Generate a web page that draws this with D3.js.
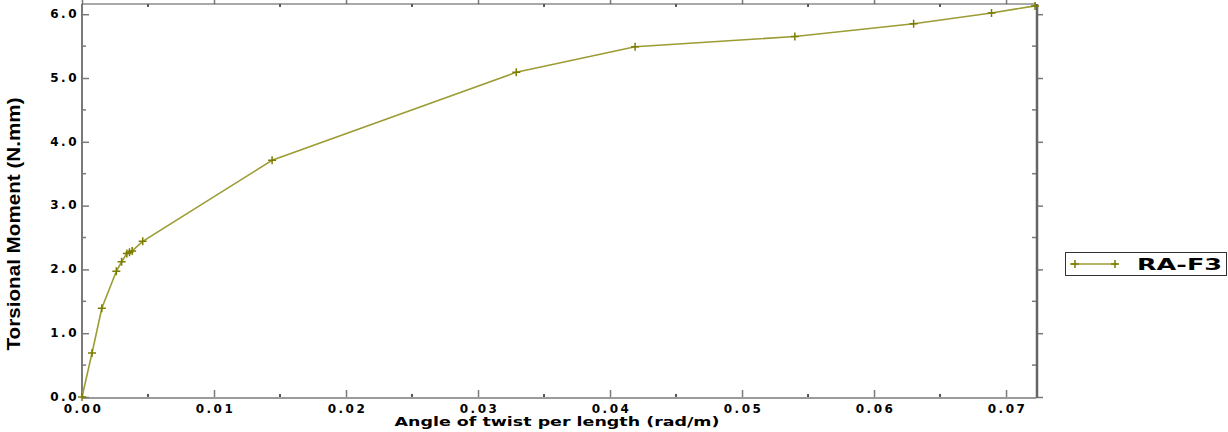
<!DOCTYPE html>
<html>
<head>
<meta charset="utf-8">
<script src="https://cdn.jsdelivr.net/npm/d3@7"></script>
<style>
  body { margin: 0; background: #fff; }
  svg { display: block; }
</style>
</head>
<body>
<div id="chart"></div>
<script>
// angle of twist per length (rad/m) and torsional moment (N.mm)
const twist  = [0, 0.00076, 0.0015, 0.0026, 0.0030, 0.0034, 0.0036, 0.0038, 0.0046, 0.0144, 0.0329, 0.0419, 0.0540, 0.0630, 0.0689, 0.0722];
const moment = [0, 0.69, 1.39, 1.97, 2.12, 2.25, 2.27, 2.29, 2.44, 3.71, 5.09, 5.49, 5.65, 5.85, 6.02, 6.13];
const xTicks = [0, 0.01, 0.02, 0.03, 0.04, 0.05, 0.06, 0.07];
const yTicks = [0, 1, 2, 3, 4, 5, 6];
const seriesName = "RA-F3";

const width = 1228, height = 432;
const pLeft = 82, pRight = 1036, pTop = 4, pBottom = 397;

const svg = d3.select("#chart").append("svg")
  .attr("width", width)
  .attr("height", height);

const x = d3.scaleLinear().domain([0, 0.07227]).range([pLeft, pRight]);
const y = d3.scaleLinear().domain([0, 6.16]).range([pBottom, pTop]);

const axisColor = "#7a7a7a";
const tickFont = "'DejaVu Sans', Verdana, sans-serif";

// minor ticks
const xMinor = d3.range(0.005, 0.0723, 0.01);
const yMinor = d3.range(0.5, 6.16, 1);

function drawX(g, yPos, dir, showLabels) {
  const ax = dir > 0 ? d3.axisBottom(x) : d3.axisTop(x);
  g.attr("transform", `translate(0,${yPos})`)
    .call(ax.tickValues(xTicks).tickSize(-7 * dir).tickFormat(showLabels ? d3.format(".2f") : ""));
  g.select(".domain").remove();
  g.selectAll(".tick line").attr("stroke", axisColor).attr("stroke-width", 1.5);
  g.selectAll(".tick text")
    .attr("fill", "#000")
    .attr("font-family", tickFont)
    .attr("font-weight", "bold")
    .attr("font-size", 12)
    .attr("letter-spacing", 2.5)
    .attr("x", 1)
    .attr("y", 7)
    .attr("dy", "0.71em");
  g.selectAll(".minor").data(xMinor).enter().append("line")
    .attr("x1", d => x(d)).attr("x2", d => x(d))
    .attr("y1", 0).attr("y2", -3 * dir)
    .attr("stroke", "#222").attr("stroke-width", 1.5);
}

function drawY(g, xPos, dir, showLabels) {
  const ax = dir > 0 ? d3.axisLeft(y) : d3.axisRight(y);
  g.attr("transform", `translate(${xPos},0)`)
    .call(ax.tickValues(yTicks).tickSize(-7 * dir).tickFormat(showLabels ? d3.format(".1f") : ""));
  g.select(".domain").remove();
  g.selectAll(".tick line").attr("stroke", axisColor).attr("stroke-width", 1.5);
  g.selectAll(".tick text")
    .attr("fill", "#000")
    .attr("font-family", tickFont)
    .attr("font-weight", "bold")
    .attr("font-size", 12)
    .attr("letter-spacing", 2.5)
    .attr("x", -3)
    .attr("dy", "0.28em");
  g.selectAll(".minor").data(yMinor).enter().append("line")
    .attr("y1", d => y(d)).attr("y2", d => y(d))
    .attr("x1", 0).attr("x2", 4 * dir)
    .attr("stroke", axisColor).attr("stroke-width", 1.5);
}

drawX(svg.append("g"), pBottom, 1, true);
drawX(svg.append("g"), pTop, -1, false);
drawY(svg.append("g"), pLeft, 1, true);
drawY(svg.append("g"), pRight, -1, false);

// frame
svg.append("line").attr("x1", pLeft).attr("x2", pLeft).attr("y1", pTop).attr("y2", pBottom + 1)
  .attr("stroke", axisColor).attr("stroke-width", 2);
svg.append("line").attr("x1", pLeft).attr("x2", pRight).attr("y1", pBottom + 1).attr("y2", pBottom + 1)
  .attr("stroke", axisColor).attr("stroke-width", 1.5);
svg.append("line").attr("x1", pLeft).attr("x2", pRight).attr("y1", pTop).attr("y2", pTop)
  .attr("stroke", "#555").attr("stroke-width", 1.2);
svg.append("line").attr("x1", pRight + 1).attr("x2", pRight + 1).attr("y1", pTop).attr("y2", pBottom + 1)
  .attr("stroke", "#666").attr("stroke-width", 2.5);

// axis titles
svg.append("text")
  .attr("x", 557).attr("y", 426)
  .attr("text-anchor", "middle")
  .attr("font-family", tickFont)
  .attr("font-weight", "bold")
  .attr("font-size", 13)
  .attr("textLength", 325)
  .attr("lengthAdjust", "spacingAndGlyphs")
  .text("Angle of twist per length (rad/m)");

svg.append("text")
  .attr("transform", "translate(20,224) rotate(-90)")
  .attr("text-anchor", "middle")
  .attr("font-family", "'Liberation Sans Narrow', 'Liberation Sans', Arial, sans-serif")
  .attr("font-weight", "bold")
  .attr("font-size", 18)
  .attr("textLength", 253)
  .attr("lengthAdjust", "spacingAndGlyphs")
  .text("Torsional Moment (N.mm)");

// data
const pts = twist.map((t, i) => [t, moment[i]]);
const lineColor = "#9c9c34";
const markColor = "#7c7c00";

svg.append("path")
  .datum(pts)
  .attr("fill", "none")
  .attr("stroke", lineColor)
  .attr("stroke-width", 1.6)
  .attr("d", d3.line().x(d => x(d[0])).y(d => y(d[1])));

function marker(g, cx, cy) {
  g.append("path")
    .attr("d", `M${cx - 4},${cy}H${cx + 4}M${cx},${cy - 4}V${cy + 4}`)
    .attr("stroke", markColor)
    .attr("stroke-width", 1.5)
    .attr("fill", "none");
}
const marks = svg.append("g");
pts.forEach(d => marker(marks, x(d[0]), y(d[1])));

// legend
const lg = svg.append("g");
lg.append("rect")
  .attr("x", 1065.5).attr("y", 252.5)
  .attr("width", 161).attr("height", 23)
  .attr("fill", "#fff").attr("stroke", "#333").attr("stroke-width", 1);
lg.append("line")
  .attr("x1", 1070).attr("x2", 1117).attr("y1", 264).attr("y2", 264)
  .attr("stroke", lineColor).attr("stroke-width", 1.6);
marker(lg, 1075, 264);
marker(lg, 1115, 264);
lg.append("text")
  .attr("x", 1137).attr("y", 270)
  .attr("font-family", tickFont)
  .attr("font-weight", "bold")
  .attr("font-size", 15)
  .attr("textLength", 85)
  .attr("lengthAdjust", "spacingAndGlyphs")
  .text(seriesName);
</script>
</body>
</html>
